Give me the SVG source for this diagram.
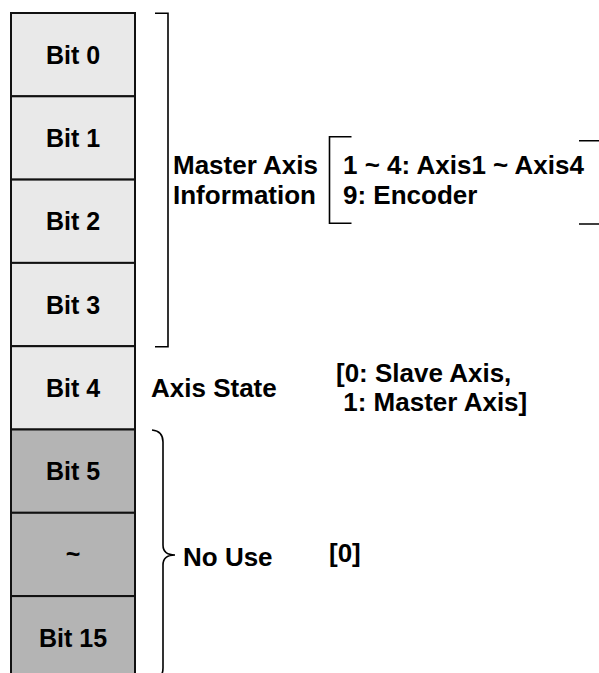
<svg xmlns="http://www.w3.org/2000/svg" width="599" height="673" viewBox="0 0 599 673">
<style>
.t{font-family:"Liberation Sans",Arial,sans-serif;font-weight:bold;font-size:26px;fill:#000}
.b{font-family:"Liberation Sans",Arial,sans-serif;font-weight:bold;font-size:25px;fill:#000;text-anchor:middle}
.lt{fill:#e9e9e9;stroke:#111;stroke-width:2}
.dk{fill:#b4b4b4;stroke:#111;stroke-width:2}
.br{fill:none;stroke:#000;stroke-width:1.6}
</style>
<rect width="599" height="673" fill="#fff"/>
<g id="bit0"><rect class="lt" x="11" y="13" width="124" height="83.3"/><text class="b" x="73" y="64">Bit 0</text></g>
<g id="bit1"><rect class="lt" x="11" y="96.3" width="124" height="83.3"/><text class="b" x="73" y="147">Bit 1</text></g>
<g id="bit2"><rect class="lt" x="11" y="179.6" width="124" height="83.3"/><text class="b" x="73" y="230">Bit 2</text></g>
<g id="bit3"><rect class="lt" x="11" y="262.9" width="124" height="83.3"/><text class="b" x="73" y="314">Bit 3</text></g>
<g id="bit4"><rect class="lt" x="11" y="346.2" width="124" height="83.3"/><text class="b" x="73" y="397">Bit 4</text></g>
<g id="bit5"><rect class="dk" x="11" y="429.5" width="124" height="83.3"/><text class="b" x="73" y="480">Bit 5</text></g>
<g id="bitdots"><rect class="dk" x="11" y="512.8" width="124" height="83.3"/><text class="b" x="73" y="563">~</text></g>
<g id="bit15"><rect class="dk" x="11" y="596.1" width="124" height="90"/><text class="b" x="73" y="647">Bit 15</text></g>
<g id="connectors">
<path class="br" d="M155,13.3 H168 V346.7 H155"/>
<path class="br" d="M351.5,136.7 H329.5 V223.3 H351.5"/>
<path class="br" d="M579,140.7 H600 M579,224 H600"/>
<path class="br" d="M152,430 Q163,431 163,442 V545 Q163,555 175,555 Q163,555 163,565 V668 Q163,679 152,680"/>
</g>
<g id="master-axis-label"><text class="t" x="173" y="174">Master Axis</text><text class="t" x="173" y="204">Information</text></g>
<g id="master-axis-values"><text class="t" x="343" y="174">1 ~ 4: Axis1 ~ Axis4</text><text class="t" x="343" y="204">9: Encoder</text></g>
<g id="axis-state-label"><text class="t" x="151" y="397">Axis State</text></g>
<g id="axis-state-values"><text class="t" x="336" y="382" xml:space="preserve">[0: Slave Axis,</text><text class="t" x="336" y="411" xml:space="preserve"> 1: Master Axis]</text></g>
<g id="no-use-label"><text class="t" x="183" y="566">No Use</text></g>
<g id="no-use-value"><text class="t" x="329" y="562">[0]</text></g>
</svg>
